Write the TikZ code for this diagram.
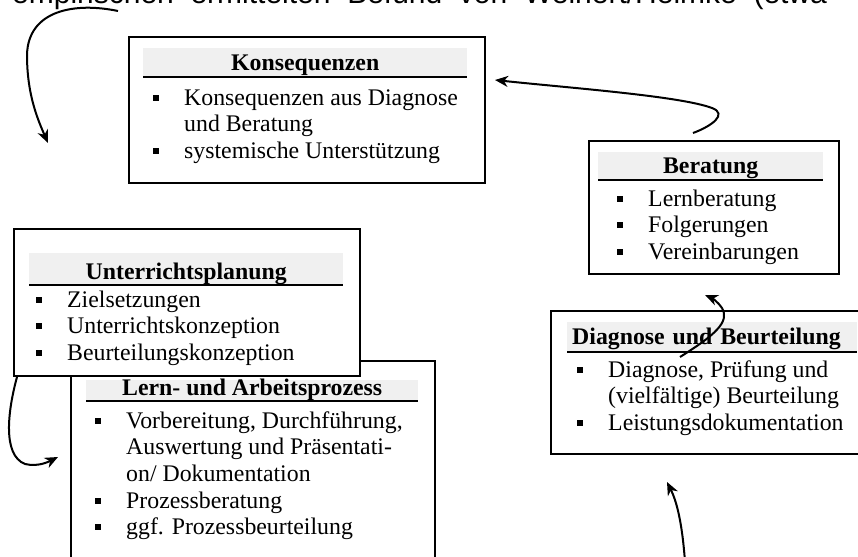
\documentclass[tikz,border=0pt]{standalone}
\usepackage{fontspec}
\setmainfont{Liberation Serif}
\newfontfamily\fliess{Liberation Sans}
\usetikzlibrary{positioning,arrows.meta}

\newcommand{\pkt}{\strut\makebox[31pt][l]{\rule[4.5pt]{6pt}{6pt}}}
\newcommand{\einr}{\strut\hspace*{31pt}}

\begin{document}
\begin{tikzpicture}[x=1pt,y=-1pt]
\begin{scope}
	\tikzstyle{rahmen}=[draw, line width=2pt, fill=white, inner sep=0pt, anchor=north west]
	\tikzstyle{kopf}=[fill=gray!12, inner sep=0pt, anchor=north west, font=\fontsize{23.8}{26.6}\selectfont\bfseries]
	\tikzstyle{liste}=[inner sep=0pt, anchor=north west, align=left, font=\fontsize{23.8}{26.6}\selectfont]
	\tikzstyle{pfeil}=[line width=2pt, -{Stealth[length=13pt,width=11pt,inset=4pt]}]
	\clip (0,0) rectangle (858,556);

	% Satzrest oben
	\node[anchor=base west, inner sep=0pt, font=\fliess\fontsize{30}{34}\selectfont] (satz) at (12,4) {empirischen\ \ ermittelten\ \ Befund\ \ von\ \ Weinert/Helmke\ \ (etwa};

	% Konsequenzen
	\node[rahmen, minimum width=356pt, minimum height=146pt] (kons) at (128,36) {};
	\node[kopf, minimum width=324pt, text height=22pt, text depth=7pt] (konsKopf) at (143,48) {Konsequenzen};
	\draw[line width=2pt] (konsKopf.south west) -- (konsKopf.south east);
	\node[liste] (konsListe) at (153,86.4) {\pkt Konsequenzen aus Diagnose\\\einr und Beratung\\\pkt systemische Unterstützung};

	% Beratung
	\node[rahmen, minimum width=250pt, minimum height=133pt] (bera) at (588,140) {};
	\node[kopf, minimum width=225pt, text height=21pt, text depth=7pt] (beraKopf) at (598,152) {Beratung};
	\draw[line width=2pt] (beraKopf.south west) -- (beraKopf.south east);
	\node[liste] (beraListe) at (617,187.4) {\pkt Lernberatung\\\pkt Folgerungen\\\pkt Vereinbarungen};

	% Lern- und Arbeitsprozess
	\node[rahmen, minimum width=364pt, minimum height=240pt] (lern) at (70,360) {};
	\node[kopf, minimum width=332pt, text height=15pt, text depth=6pt] (lernKopf) at (86,380) {Lern- und Arbeitsprozess};
	\draw[line width=2pt] (lernKopf.south west) -- (lernKopf.south east);
	\node[liste] (lernListe) at (95,409.4) {\pkt Vorbereitung, Durchführung,\\\einr Auswertung und Präsentati-\\\einr on/ Dokumentation\\\pkt Prozessberatung\\\pkt ggf. Prozessbeurteilung};

	% Unterrichtsplanung
	\node[rahmen, minimum width=346pt, minimum height=147pt] (unter) at (13,228) {};
	\node[kopf, minimum width=314pt, text height=26pt, text depth=6pt] (unterKopf) at (29,253) {Unterrichtsplanung};
	\draw[line width=2pt] (unterKopf.south west) -- (unterKopf.south east);
	\node[liste] (unterListe) at (36,288.4) {\pkt Zielsetzungen\\\pkt Unterrichtskonzeption\\\pkt Beurteilungskonzeption};

	% Diagnose und Beurteilung
	\node[rahmen, minimum width=318pt, minimum height=143pt] (diag) at (550,310) {};
	\node[kopf, text width=280pt, inner xsep=5pt, align=left, text height=22pt, text depth=8pt] (diagKopf) at (567,322) {Diagnose und Beurteilung};
	\draw[line width=2pt] (diagKopf.south west) -- (diagKopf.south east);
	\node[liste] (diagListe) at (577,358.4) {\pkt Diagnose, Prüfung und\\\einr (vielfältige) Beurteilung\\\pkt Leistungsdokumentation};

	% Pfeile
	\coordinate (a1) at (118,11);
	\coordinate (a2) at (48,143);
	\coordinate (b1) at (693,133);
	\coordinate (b2) at (495,80);
	\coordinate (c1) at (680,357);
	\coordinate (c2) at (705,295);
	\coordinate (d1) at (685,562);
	\coordinate (d2) at (667,482);
	\coordinate (e1) at (17,377);
	\coordinate (e2) at (58,457);

	\draw[pfeil] (a1) .. controls (75,2) and (28,10) .. (27,55) .. controls (27,95) and (38,120) .. (a2);
	\draw[pfeil] (b1) .. controls (712,126) and (728,114) .. (712,108) .. controls (680,96) and (570,88) .. (b2);
	\draw[pfeil] (c1) .. controls (715,335) and (730,322) .. (722,308) .. controls (718,302) and (712,298) .. (c2);
	\draw[pfeil] (d1) .. controls (682,520) and (676,500) .. (d2);
	\draw[pfeil] (e1) .. controls (8,410) and (2,455) .. (25,464) .. controls (38,467) and (48,462) .. (e2);
\end{scope}
\end{tikzpicture}
\end{document}
